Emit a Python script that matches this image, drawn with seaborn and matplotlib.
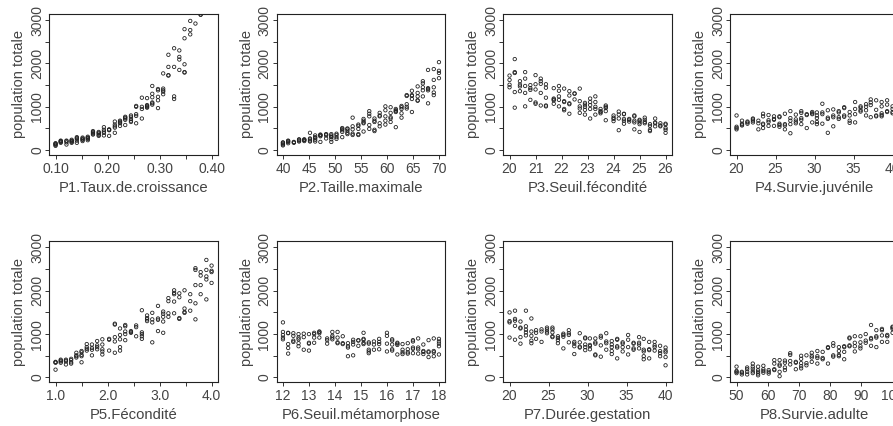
import pandas as pd
import matplotlib
matplotlib.use('Agg')
import matplotlib.pyplot as plt
import seaborn as sns

# Lecture du graphique : niveaux de chaque paramètre, puis population par niveau
p1_x = [0.100, 0.110, 0.121, 0.131, 0.141, 0.152, 0.162, 0.172, 0.183, 0.193, 0.203, 0.214, 0.224, 0.234,
        0.245, 0.255, 0.266, 0.276, 0.286, 0.297, 0.307, 0.317, 0.328, 0.338, 0.348, 0.359, 0.369, 0.379]
p1_y = [[100, 120, 140, 160, 150], [170, 190, 210, 220, 200], [130, 180, 210, 220], [190, 210, 220, 240, 170],
        [170, 220, 260, 300, 280], [210, 240, 250, 290, 270], [230, 260, 290, 310, 280], [360, 400, 420, 440, 380],
        [330, 350, 380, 420, 400], [340, 400, 430, 470, 530], [330, 460, 480, 470], [400, 520, 550, 590, 660],
        [560, 620, 640, 660, 680], [580, 700, 730, 750, 770], [650, 680, 720, 770, 800], [620, 790, 830, 1000, 1020],
        [730, 950, 1000, 1210], [980, 1000, 1040, 1200, 1020], [1050, 1080, 1100, 1220, 1300, 1480],
        [970, 1150, 1230, 1380, 1410], [1290, 1350, 1380, 1420, 1770], [1720, 1730, 1920, 2200],
        [1180, 1240, 1920, 2350], [1850, 2090, 2150, 2300], [1790, 1800, 1980, 2580, 2790],
        [2670, 2770, 2980], [2920], [3120, 3130]]

p2_x = [40, 41, 42.1, 43.1, 44.1, 45.2, 46.2, 47.2, 48.3, 49.3, 50.3, 51.4, 52.4, 53.4, 54.5,
        55.5, 56.6, 57.6, 58.6, 59.7, 60.7, 61.7, 62.8, 63.8, 64.8, 65.9, 66.9, 67.9, 69, 70]
p2_y = [[110, 130, 150, 170, 180], [160, 190, 210, 220], [170, 180, 190], [200, 220, 240, 250],
        [210, 230, 240, 250], [200, 220, 250, 270, 400], [200, 240, 280, 300, 340], [190, 320, 340, 360, 350],
        [270, 340, 360, 370], [190, 250, 300, 310, 340, 370], [260, 300, 350, 380], [300, 420, 460, 490, 510],
        [370, 400, 450, 490, 500], [350, 380, 480, 550, 750], [350, 370, 490, 560, 590], [430, 620, 640, 680, 720],
        [490, 580, 780, 840, 900], [440, 470, 650, 680, 730], [550, 620, 780, 800, 860], [590, 680, 780, 920, 1010],
        [650, 730, 760, 860, 990], [530, 880, 900, 920, 950], [750, 850, 950, 990, 1020], [960, 1000, 1060, 1250, 1270],
        [880, 1180, 1250, 1270, 1370], [1140, 1150, 1240, 1320, 1470], [1240, 1380, 1450, 1540, 1590],
        [1080, 1380, 1410, 1430, 1850], [1270, 1330, 1450, 1620, 1870], [1660, 1780, 1830, 2030]]

p3_x = [20, 20.2, 20.4, 20.6, 20.8, 21, 21.2, 21.4, 21.7, 21.9, 22.1, 22.3, 22.5, 22.7, 22.9,
        23.1, 23.3, 23.5, 23.7, 24, 24.2, 24.4, 24.6, 24.8, 25, 25.2, 25.4, 25.6, 25.8, 26]
p3_y = [[1450, 1510, 1620, 1720], [980, 1340, 1780, 1800, 2100], [1360, 1470, 1510, 1590],
        [1010, 1320, 1480, 1650, 1800], [1160, 1390, 1430, 1500], [1070, 1100, 1400, 1520, 1730],
        [1030, 1320, 1530, 1590, 1650], [1010, 1030, 1210, 1440, 1520], [1070, 1150, 1170, 1190, 1430],
        [1010, 1160, 1240, 1370, 1480], [920, 950, 1110, 1130, 1420], [840, 1060, 1080, 1260, 1360],
        [1170, 1300, 1310], [860, 960, 1010, 1130, 1420], [820, 930, 1000, 1050, 1090],
        [730, 950, 1040, 1110, 1190], [820, 950, 1000, 1110, 1240], [850, 880, 900, 950],
        [690, 900, 970, 1000, 1030], [670, 720, 750, 800], [460, 730, 820, 890], [610, 680, 720, 830, 840],
        [660, 700, 720], [480, 640, 680, 780, 800], [420, 600, 640, 680, 700], [620, 650, 700, 750],
        [440, 470, 560, 600], [550, 620, 640, 730], [550, 570, 620], [400, 470, 510, 590, 610]]

p4_x = [20, 20.7, 21.4, 22.1, 22.8, 23.4, 24.1, 24.8, 25.5, 26.2, 26.9, 27.6, 28.3, 29, 29.7,
        30.3, 31, 31.7, 32.4, 33.1, 33.8, 34.5, 35.2, 35.9, 36.6, 37.2, 37.9, 38.6, 39.3, 40]
p4_y = [[480, 510, 540, 800], [570, 590, 610, 680], [610, 640, 660], [640, 680, 710, 730], [480, 620, 680],
        [510, 590, 610, 780, 840], [560, 650, 690, 810], [560, 700, 720, 780], [540, 580, 610, 760, 780],
        [480, 570, 600, 840], [390, 600, 680, 740, 900], [620, 660, 710, 820], [600, 700, 740, 860, 900],
        [510, 810, 830], [640, 830, 850, 880], [600, 650, 740, 800, 870], [610, 830, 870, 1070],
        [400, 720, 750, 920], [550, 760, 800, 940], [720, 760, 870, 900], [770, 800, 970, 990],
        [630, 680, 800, 880], [640, 830, 950, 1110], [890, 920, 980, 1010], [800, 920, 1000, 1060],
        [760, 1040, 1100, 1170], [780, 800, 930, 1150], [780, 810, 850, 1010, 1110], [880, 900, 1050, 1150],
        [850, 880, 950, 1010]]

p5_x = [1, 1.1, 1.2, 1.3, 1.4, 1.5, 1.6, 1.7, 1.8, 1.9, 2.03, 2.14, 2.24, 2.34, 2.45,
        2.55, 2.66, 2.76, 2.86, 2.97, 3.07, 3.17, 3.28, 3.38, 3.48, 3.59, 3.69, 3.79, 3.9, 4]
p5_y = [[180, 340, 350, 360], [340, 370, 390, 410], [300, 370, 390, 410], [320, 350, 400, 430],
        [460, 490, 510, 570], [350, 490, 520, 580, 610], [620, 660, 700, 770], [510, 640, 680, 760],
        [650, 700, 740, 840], [530, 600, 650, 760, 880], [620, 870, 890], [570, 830, 930, 1220, 1240],
        [620, 700, 880, 980, 1130], [860, 1000, 1060, 1180, 1210], [1030, 1050, 1070], [950, 1160, 1200],
        [890, 950, 1000, 1040, 1550], [1300, 1340, 1370, 1430], [810, 1270, 1340, 1490], [1070, 1330, 1360, 1650],
        [1030, 1290, 1400, 1470, 1520], [1400, 1480, 1760, 1830], [1480, 1750, 1920, 1950, 2010],
        [1350, 1370, 1850, 1940], [1490, 1510, 1590, 2010], [1540, 1760, 1920], [1340, 1710, 2130, 2480, 2520],
        [1920, 2130, 2350, 2430], [1800, 2260, 2330, 2480, 2710], [2180, 2430, 2460, 2580]]

p6_x = [12, 12.2, 12.4, 12.6, 12.8, 13, 13.2, 13.4, 13.7, 13.9, 14.1, 14.3, 14.5, 14.7, 14.9,
        15.1, 15.3, 15.5, 15.7, 16, 16.2, 16.4, 16.6, 16.8, 17, 17.2, 17.4, 17.6, 17.8, 18]
p6_y = [[880, 920, 980, 1050, 1270], [550, 680, 770, 1020, 1030], [820, 850, 960, 1020], [720, 790, 880, 920, 1000],
        [640, 930, 1010], [620, 780, 800, 1000], [800, 920, 1000, 1030], [920, 1020, 1050, 1060], [780, 860, 900],
        [880, 920, 960, 1050], [790, 810, 920, 1050], [770, 790, 950], [490, 690, 720, 790], [510, 760, 820, 870],
        [730, 850, 860], [770, 800, 870, 890, 1030], [560, 600, 640, 780, 810], [640, 760, 830],
        [650, 770, 820, 890], [600, 780, 960, 1030], [620, 650, 760, 850, 880], [530, 750, 780, 800],
        [540, 580, 640, 770], [550, 580, 650, 790], [560, 660, 690, 830, 860], [550, 650, 690, 900],
        [540, 590, 610, 760], [470, 580, 600, 860], [490, 580, 610, 900], [530, 720, 780, 830, 890]]

p7_x = [20, 20.7, 21.4, 22.1, 22.8, 23.4, 24.1, 24.8, 25.5, 26.2, 26.9, 27.6, 28.3, 29, 29.7,
        30.3, 31, 31.7, 32.4, 33.1, 33.8, 34.5, 35.2, 35.9, 36.6, 37.2, 37.9, 38.6, 39.3, 40]
p7_y = [[920, 1270, 1300, 1500], [870, 1190, 1310, 1350, 1540], [780, 930, 1130, 1150, 1290],
        [970, 1040, 1100, 1180, 1540], [790, 850, 960, 1060, 1360], [890, 1030, 1090], [820, 1060, 1110],
        [1020, 1060, 1110, 1150], [930, 950, 1040, 1110, 1150], [790, 860, 910, 950], [670, 940, 980, 1010],
        [810, 980, 1020, 1090], [540, 720, 780, 820], [690, 710, 810, 1020], [630, 700, 760, 900, 920],
        [650, 720, 750, 900], [510, 530, 780, 810, 900], [480, 740, 920, 960], [640, 790, 830, 1020],
        [540, 610, 700, 760, 840], [440, 690, 720, 870, 890], [600, 700, 780, 810], [530, 700, 870, 980],
        [640, 670, 780, 800], [670, 760, 800, 930], [420, 490, 600, 640, 890], [440, 630, 650, 820],
        [620, 700, 740, 820], [490, 560, 610, 730], [280, 470, 580, 620, 690]]

p8_x = [50, 51.7, 53.4, 55.2, 56.9, 58.6, 60.3, 62.1, 63.8, 65.5, 67.2, 69, 70.7, 72.4, 74.1,
        75.9, 77.6, 79.3, 81, 82.8, 84.5, 86.2, 87.9, 89.7, 91.4, 93.1, 94.8, 96.6, 98.3, 100]
p8_y = [[100, 130, 150, 250], [70, 110, 130], [70, 130, 190, 230], [100, 140, 200, 250, 320], [50, 90, 130, 170, 250],
        [110, 150, 190, 270], [90, 130, 170], [170, 190, 320, 400], [30, 130, 270, 300, 400], [170, 230, 340, 390],
        [300, 380, 520, 560], [190, 340, 360], [210, 260, 330, 430, 500], [280, 330, 510], [360, 460, 500, 570],
        [320, 450, 490, 610], [420, 450, 590], [320, 680, 700], [480, 510, 730, 790], [490, 520, 610, 700],
        [420, 590, 700, 720], [720, 740, 900, 920], [600, 720, 800, 950], [670, 720, 810, 950], [800, 850, 1000],
        [730, 880, 910, 1210], [700, 920, 950, 1090], [820, 970, 1090, 1120], [820, 950, 980], [1030, 1120, 1150, 1170]]

noms = ['P1.Taux.de.croissance', 'P2.Taille.maximale', 'P3.Seuil.fécondité', 'P4.Survie.juvénile',
        'P5.Fécondité', 'P6.Seuil.métamorphose', 'P7.Durée.gestation', 'P8.Survie.adulte']
series_x = [p1_x, p2_x, p3_x, p4_x, p5_x, p6_x, p7_x, p8_x]
series_y = [p1_y, p2_y, p3_y, p4_y, p5_y, p6_y, p7_y, p8_y]

# graduations de x et étiquettes affichées (R saute celles qui se chevauchent)
graduations = [[0.10, 0.15, 0.20, 0.25, 0.30, 0.35, 0.40], [40, 45, 50, 55, 60, 65, 70],
               [20, 21, 22, 23, 24, 25, 26], [20, 25, 30, 35, 40],
               [1.0, 1.5, 2.0, 2.5, 3.0, 3.5, 4.0], [12, 13, 14, 15, 16, 17, 18],
               [20, 25, 30, 35, 40], [50, 60, 70, 80, 90, 100]]
etiquettes = [['0.10', '', '0.20', '', '0.30', '', '0.40'], ['40', '45', '50', '55', '60', '65', '70'],
              ['20', '21', '22', '23', '24', '25', '26'], ['20', '25', '30', '35', '40'],
              ['1.0', '', '2.0', '', '3.0', '', '4.0'], ['12', '13', '14', '15', '16', '17', '18'],
              ['20', '25', '30', '35', '40'], ['50', '60', '70', '80', '90', '100']]
y_ticks = [0, 500, 1000, 1500, 2000, 2500, 3000]
y_labels = ['0', '', '1000', '', '2000', '', '3000']

# bord gauche des panneaux et limites de x (marge de 4 % comme dans R)
gauche = [49.3, 276.7, 503.3, 730.3]
xlims = [(0.088, 0.412), (38.8, 71.2), (19.76, 26.24), (19.2, 40.8),
         (0.88, 4.12), (11.76, 18.24), (19.2, 40.8), (48, 102)]

sns.set_theme(style='white')
plt.rcParams['font.family'] = ['Liberation Sans', 'DejaVu Sans']

W, H = 893, 426
fig = plt.figure(figsize=(W / 100, H / 100), dpi=100)

for i in range(8):
    df = pd.DataFrame({'x': series_x[i], 'y': series_y[i]}).explode('y')
    df['y'] = df['y'].astype(float)

    haut = 14 if i < 4 else 241.3
    ax = fig.add_axes([gauche[i % 4] / W, 1 - (haut + 140.5) / H, 168.5 / W, 140.5 / H])
    sns.scatterplot(data=df, x='x', y='y', ax=ax, s=6, facecolor='none', edgecolor='#222222', linewidth=0.6)

    ax.set_xlim(xlims[i])
    ax.set_ylim(-100, 3140)
    ax.set_xticks(graduations[i], etiquettes[i])
    ax.set_yticks(y_ticks, y_labels)
    ax.tick_params(axis='both', length=3, width=0.7, color='#333333', labelcolor='#444444', labelsize=10, bottom=True, left=True)
    ax.tick_params(axis='x', pad=2.2)
    ax.tick_params(axis='y', pad=0.8)
    for lab in ax.get_yticklabels():
        lab.set_rotation(90)
        lab.set_va('center')
    ax.set_xlabel(noms[i], fontsize=10.7, color='#444444', va='center')
    ax.set_ylabel('population totale', fontsize=10.5, color='#444444', va='center')
    ax.xaxis.set_label_coords(0.5, -33 / 140.5)
    ax.yaxis.set_label_coords(-30 / 168.5, 0.5)
    for s in ax.spines.values():
        s.set_color('#222222')
        s.set_linewidth(0.8)

fig.savefig('out.png', dpi=100)
